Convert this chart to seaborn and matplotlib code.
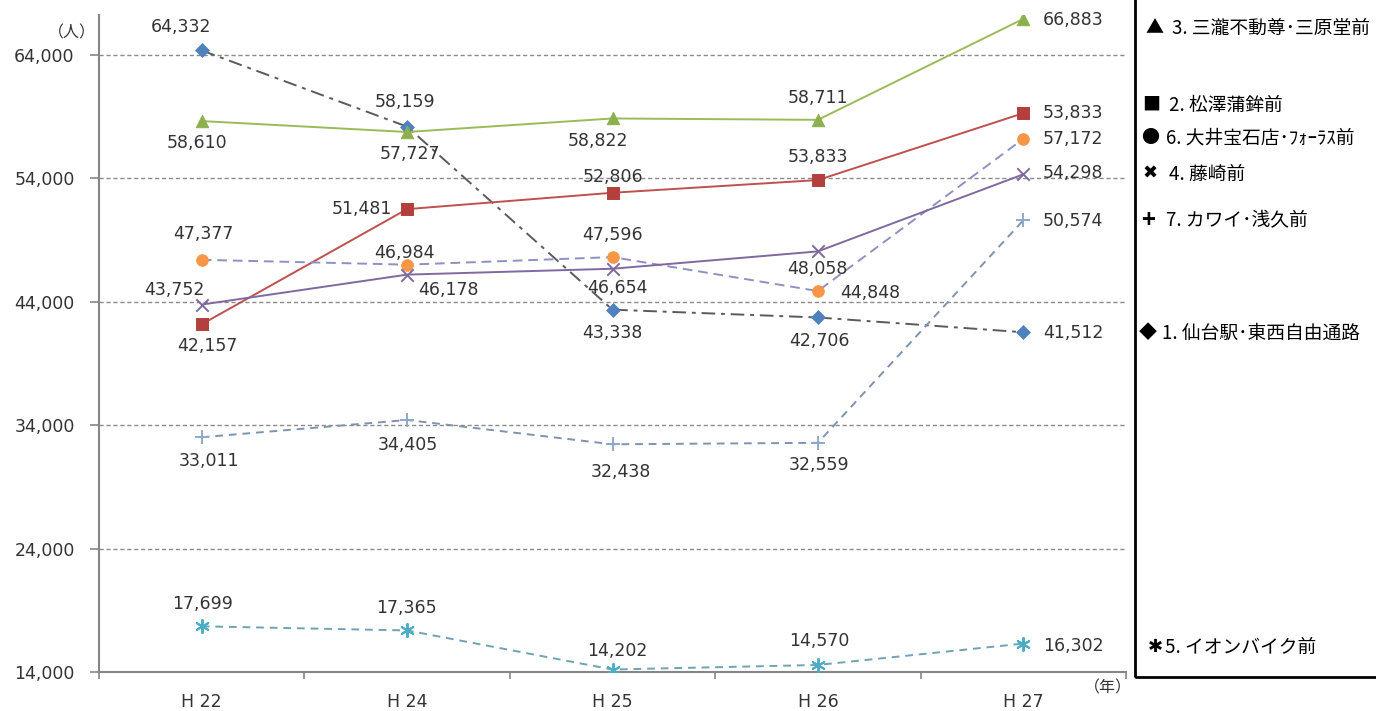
import matplotlib
matplotlib.use("Agg")
import matplotlib.pyplot as plt
from matplotlib.patches import Rectangle
from matplotlib.ticker import FuncFormatter
import seaborn as sns
import pandas as pd
import numpy as np

# data
years = ['H 22', 'H 24', 'H 25', 'H 26', 'H 27']

s1_sendai = [64332, 58159, 43338, 42706, 41512]
s3_mitaki = [58610, 57727, 58822, 58711, 66883]
s2_matsuzawa = [42157, 51481, 52806, 53833, 59250]
s6_oi = [47377, 46984, 47596, 44848, 57172]
s4_fujisaki = [43752, 46178, 46654, 48058, 54298]
s7_kawai = [33011, 34405, 32438, 32559, 50574]
s5_aeon = [17699, 17365, 14202, 14570, 16302]

# the last label of series 2 reads 53,833 in the original
s2_labels = ['42,157', '51,481', '52,806', '53,833', '53,833']

legend_marks = ['▲', '■', '●', '✖', '+', '◆', '✱']
legend_names = ['3. 三瀧不動尊･三原堂前', '2. 松澤蒲鉾前', '6. 大井宝石店･ﾌｫｰﾗｽ前',
                '4. 藤崎前', '7. カワイ･浅久前', '1. 仙台駅･東西自由通路',
                '5. イオンバイク前']

W, H = 1376, 711
sns.set_style('white')
plt.rcParams['font.family'] = ['DejaVu Sans']
CJK = ['Noto Sans CJK JP', 'DejaVu Sans']

fig = plt.figure(figsize=(W / 100, H / 100), dpi=100)
ax = fig.add_axes([99 / W, (H - 672) / H, (1126 - 99) / W, (672 - 15) / H])

pos = np.arange(len(years))

# (values, labels, line color, line style, marker, marker color, size, label offsets px)
series = [
    (s1_sendai, None, '#5a5a5a', (0, (7, 3, 2, 3)), 'D', '#4F81BD', 50,
     [(-21, 23), (-2, 25), (0, -23), (2, -24), (50, -1)]),
    (s3_mitaki, None, '#9BBB59', '-', '^', '#8DB04F', 80,
     [(-5, -22), (3, -22), (-15, -23), (0, 22), (50, -1)]),
    (s2_matsuzawa, s2_labels, '#C0504D', '-', 's', '#B3403D', 75,
     [(6, -22), (-45, 0), (0, 16), (0, 23), (50, 0)]),
    (s6_oi, None, '#8F8FC4', (0, (5, 3)), 'o', '#F79646', 70,
     [(2, 26), (-3, 12), (0, 22), (52, -2), (50, 0)]),
    (s4_fujisaki, None, '#7F6AA0', '-', 'x', '#7F6AA0', 80,
     [(-27, 15), (41, -15), (5, -19), (-1, -18), (50, 1)]),
    (s7_kawai, None, '#7F93AE', (0, (4, 3)), '+', '#8EA9C8', 90,
     [(7, -24), (1, -25), (8, -28), (1, -22), (50, -1)]),
    (s5_aeon, None, '#6FA3B3', (0, (4, 3)), (6, 2, 0), '#4BACC6', 90,
     [(1, 22), (-1, 22), (5, 19), (1, 24), (50, -2)]),
]

for vals, labs, lc, ls, mk, mc, ms, offs in series:
    df = pd.DataFrame({'x': pos, 'y': vals})
    sns.lineplot(data=df, x='x', y='y', color=lc, linestyle=ls, linewidth=1.4, ax=ax, zorder=2)
    if mk in ('x', '+') or isinstance(mk, tuple):
        sns.scatterplot(data=df, x='x', y='y', marker=mk, color=mc, s=ms, linewidth=1.4, ax=ax, zorder=3)
    else:
        sns.scatterplot(data=df, x='x', y='y', marker=mk, color=mc, s=ms, edgecolor=mc, ax=ax, zorder=3)
    if labs is None:
        labs = [f'{v:,}' for v in vals]
    for i, (v, t) in enumerate(zip(vals, labs)):
        ax.annotate(t, (pos[i], v), xytext=offs[i], textcoords='offset pixels',
                    ha='center', va='center', fontsize=12.5, color='#333333')

ax.set_xlim(-0.5, len(years) - 0.5)
ax.set_ylim(14000, 67200)
ax.set_xticks(pos)
ax.set_xticklabels(years)
ax.set_xticks(np.arange(-0.5, len(years), 1.0), minor=True)
ax.set_yticks(np.arange(14000, 64001, 10000))
ax.yaxis.set_major_formatter(FuncFormatter(lambda v, p: f'{int(v):,}'))
ax.set_xlabel('')
ax.set_ylabel('')

ax.tick_params(axis='x', which='major', length=0, pad=15, labelsize=12.5, labelcolor='#333333')
ax.tick_params(axis='x', which='minor', length=5, width=1.2, color='#868686', direction='out', bottom=True)
ax.tick_params(axis='y', length=6.5, width=1.2, color='#868686', direction='out', pad=11,
               labelsize=12.5, labelcolor='#333333', left=True)

for v in np.arange(24000, 64001, 10000):
    ax.axhline(v, color='#8a8a8a', linestyle=(0, (3, 2)), linewidth=1.0, zorder=1)

for side in ['top', 'right']:
    ax.spines[side].set_visible(False)
for side in ['left', 'bottom']:
    ax.spines[side].set_color('#868686')
    ax.spines[side].set_linewidth(1.5)
ax.grid(False)

fig.text(72 / W, 1 - 33 / H, '（人）', fontsize=11.5, color='#333333', family=CJK, ha='center', va='center')
fig.text(1108 / W, 1 - 688 / H, '（年）', fontsize=11.5, color='#333333', family=CJK, ha='center', va='center')

# legend box on the right
fig.add_artist(Rectangle((1135 / W, 1 - 677 / H), 1, 1, transform=fig.transFigure,
                         fill=False, edgecolor='black', linewidth=2))
legend_y = [28, 105, 138, 174, 221, 333, 647]
mark_x = [1154, 1151, 1150, 1150, 1148, 1148, 1155]
text_x = [1172, 1169, 1166, 1169, 1166, 1162, 1165]
for mark, name, y, mx, tx in zip(legend_marks, legend_names, legend_y, mark_x, text_x):
    fig.text(mx / W, 1 - y / H, mark, fontsize=13 if mark != '+' else 17, color='black',
             family=CJK, ha='center', va='center', weight='bold' if mark == '+' else 'normal')
    fig.text(tx / W, 1 - y / H, name, fontsize=13.5, color='black', family=CJK,
             ha='left', va='center')

plt.savefig('out.png', dpi=100)
